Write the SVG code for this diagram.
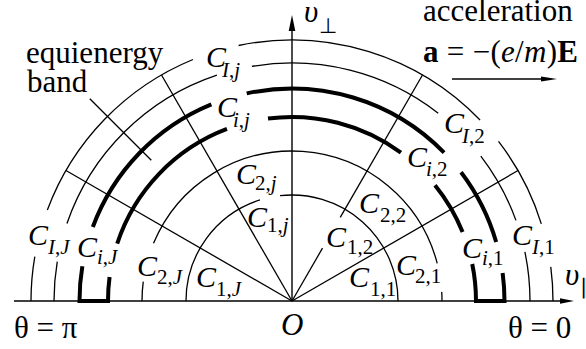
<svg xmlns="http://www.w3.org/2000/svg" width="586" height="349" viewBox="0 0 586 349">
<style>
text{font-family:'Liberation Serif','Times New Roman',serif;fill:#000}
.t{font-size:31px}
.c{font-size:30px;font-style:italic}
.s{font-size:21px}
.i{font-style:italic}
.b{font-weight:bold}
.thin{fill:none;stroke:#000;stroke-width:1.3}
.thick{fill:none;stroke:#000;stroke-width:4}
.ax{fill:none;stroke:#000;stroke-width:1.4}
</style>
<rect width="586" height="349" fill="#fff"/>
<g id="connectors">
<g id="axes">
<line class="ax" x1="14" y1="301" x2="562" y2="301"/>
<polygon points="574,301 560,298.3 560,303.7"/>
<line class="ax" x1="292" y1="301" x2="292" y2="29"/>
<polygon points="292,15 288.7,31 295.3,31"/>
</g>
<g id="radials" class="thin">
<line x1="292" y1="301" x2="518.03" y2="170.5"/>
<line x1="292" y1="301" x2="322.5" y2="248.17"/>
<line x1="340.25" y1="217.43" x2="422.5" y2="74.97"/>
<line x1="292" y1="301" x2="161.5" y2="74.97"/>
<line x1="292" y1="301" x2="65.97" y2="170.5"/>
<line x1="151.29" y1="160.29" x2="89.77" y2="98.77"/>
</g>
<g id="circle-1" class="thin">
<path d="M398,301 A106,106 0 0 0 280.0,195.7"/>
<path d="M259.95,199.96 A106,106 0 0 0 186,301"/>
</g>
<g id="circle-2" class="thin">
<path d="M442,301 A150,150 0 0 0 441.72,291.84"/>
<path d="M437.22,263.44 A150,150 0 0 0 153.52,243.36"/>
<path d="M143.25,281.68 A150,150 0 0 0 142,301"/>
</g>
<g id="band-i" class="thick">
<path d="M472.24,264 A184,184 0 0 1 476,301 L504.5,301 A212.5,212.5 0 0 0 502.63,272.89"/>
<path d="M82.35,266.29 A212.5,212.5 0 0 0 79.5,301 L108,301 A184,184 0 0 1 109.57,276.98"/>
<path d="M496.17,242.07 A212.5,212.5 0 0 0 461.04,172.23"/>
<path d="M444.08,152.59 A212.5,212.5 0 0 0 246.73,93.38"/>
<path d="M211.36,104.39 A212.5,212.5 0 0 0 92.83,226.93"/>
<path d="M462.6,232.07 A184,184 0 0 0 434.99,185.21"/>
<path d="M400.93,152.71 A184,184 0 0 0 267.98,118.57"/>
<path d="M226.96,128.88 A184,184 0 0 0 117.21,243.53"/>
</g>
<g id="band-I" class="thin">
<path d="M530,301 A238,238 0 0 0 524.89,251.92"/>
<path d="M515.93,220.38 A238,238 0 0 0 480.82,156.12"/>
<path d="M438.2,113.2 A238,238 0 0 0 251.9,66.4"/>
<path d="M216.88,75.17 A238,238 0 0 0 66.96,223.51"/>
<path d="M57.26,261.72 A238,238 0 0 0 54,301"/>
<path d="M553,301 A261,261 0 0 0 550.77,266.93"/>
<path d="M541.33,223.82 A261,261 0 0 0 498.51,141.39"/>
<path d="M480.06,120.02 A261,261 0 0 0 238.63,45.51"/>
<path d="M192.96,59.52 A261,261 0 0 0 47.37,210.02"/>
<path d="M34.81,256.58 A261,261 0 0 0 31,301"/>
</g>
<g id="accel-arrow">
<line class="ax" x1="452" y1="79" x2="545" y2="79"/>
<polygon points="557,79 541,76.6 541,81.4"/>
</g>
</g>
<g id="labels" font-family="Liberation Serif, Times New Roman, serif">
<text class="t" x="26" y="63">equienergy</text>
<text class="t" x="27" y="92">band</text>
<text class="t" x="423" y="21">acceleration</text>
<text class="t" x="423" y="62" textLength="155" lengthAdjust="spacing"><tspan class="b">a</tspan> = −(<tspan class="i">e</tspan>/<tspan class="i">m</tspan>)<tspan class="b">E</tspan></text>
<text class="t i" x="304" y="22">υ</text><text class="s" x="319" y="33">⊥</text>
<text class="t i" x="565" y="285">υ</text><text class="s" x="580" y="294">∥</text>
<text class="t" x="14" y="338">θ = π</text>
<text class="t" x="508" y="338">θ = 0</text>
<text class="t i" x="281" y="335">O</text>
<g id="C-Ij"><text class="c" x="206" y="67">C</text><text class="s" x="222" y="77"><tspan class="i">I</tspan>,<tspan class="i">j</tspan></text></g>
<g id="C-ij"><text class="c" x="217" y="117">C</text><text class="s" x="233" y="127"><tspan class="i">i</tspan>,<tspan class="i">j</tspan></text></g>
<g id="C-I2"><text class="c" x="444" y="133">C</text><text class="s" x="462" y="143"><tspan class="i">I</tspan>,2</text></g>
<g id="C-i2"><text class="c" x="407" y="167">C</text><text class="s" x="426" y="176"><tspan class="i">i</tspan>,2</text></g>
<g id="C-2j"><text class="c" x="236" y="184">C</text><text class="s" x="255" y="190">2,<tspan class="i">j</tspan></text></g>
<g id="C-1j"><text class="c" x="247" y="227">C</text><text class="s" x="267" y="232">1,<tspan class="i">j</tspan></text></g>
<g id="C-22"><text class="c" x="359" y="213">C</text><text class="s" x="380" y="222">2,2</text></g>
<g id="C-12"><text class="c" x="326" y="247">C</text><text class="s" x="347" y="254">1,2</text></g>
<g id="C-11"><text class="c" x="349" y="287">C</text><text class="s" x="370" y="296">1,1</text></g>
<g id="C-1J"><text class="c" x="196" y="287">C</text><text class="s" x="216" y="296">1,<tspan class="i">J</tspan></text></g>
<g id="C-21"><text class="c" x="396" y="275">C</text><text class="s" x="415" y="283">2,1</text></g>
<g id="C-2J"><text class="c" x="137" y="276">C</text><text class="s" x="157" y="284">2,<tspan class="i">J</tspan></text></g>
<g id="C-iJ"><text class="c" x="77" y="257">C</text><text class="s" x="97" y="264"><tspan class="i">i</tspan>,<tspan class="i">J</tspan></text></g>
<g id="C-IJ"><text class="c" x="28" y="245">C</text><text class="s" x="48" y="254"><tspan class="i">I</tspan>,<tspan class="i">J</tspan></text></g>
<g id="C-i1"><text class="c" x="462" y="258">C</text><text class="s" x="482" y="265"><tspan class="i">i</tspan>,1</text></g>
<g id="C-I1"><text class="c" x="512" y="245">C</text><text class="s" x="532" y="254"><tspan class="i">I</tspan>,1</text></g>
</g>
</svg>
